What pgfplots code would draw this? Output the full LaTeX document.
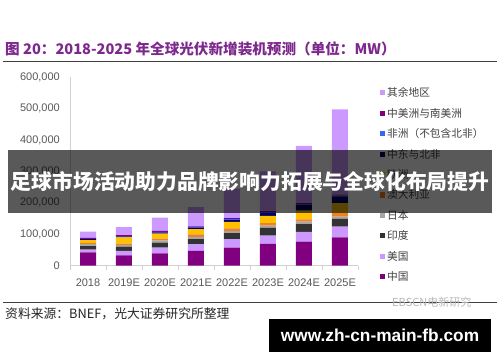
\documentclass[border=0pt]{standalone}
\usepackage{fontspec}
\setmainfont{Liberation Sans}
\newfontfamily\cjk{Noto Sans CJK SC}
\usepackage{pgfplots}
\usepackage{pgfplotstable}
\pgfplotsset{compat=1.18}
\definecolor{cChina}{HTML}{800080}
\definecolor{cUS}{HTML}{CC99FF}
\definecolor{cIndia}{HTML}{333333}
\definecolor{cJapan}{HTML}{A6A6A6}
\definecolor{cAus}{HTML}{F08020}
\definecolor{cEurope}{HTML}{FFC000}
\definecolor{cMENA}{HTML}{000066}
\definecolor{cAfrica}{HTML}{3366FF}
\definecolor{cCSA}{HTML}{800080}
\definecolor{cRest}{HTML}{CC99FF}
\definecolor{titlepurple}{RGB}{125,40,140}
\definecolor{rulegray}{HTML}{404040}
\definecolor{ticktext}{HTML}{595959}
\definecolor{legtext}{HTML}{404040}

\pgfplotstableread{
x china us india japan aus europe mena africa csa rest
0 42000 9000 11000 6000 4000 9000 3000 1000 3000 20000
1 32000 15000 13000 5000 5000 20000 3000 1000 3000 25000
2 39000 18000 16000 7000 6000 16000 4000 1000 3000 43000
3 47000 21000 16000 7000 8000 17000 4000 2000 3000 61000
4 57000 27000 19000 7000 8000 21000 6000 3000 3000 94000
5 69000 26000 25000 7000 8000 23000 9000 3000 3000 127000
6 76000 31000 25000 8000 7000 28000 19000 2000 3000 182000
7 90000 34000 25000 7000 11000 32000 21000 3000 3000 272000
}\data

\pgfplotsset{sq/.style={draw=none, fill=#1, legend image code/.code={\fill[#1] (0pt,-2.6pt) rectangle (5.2pt,2.6pt);}}}

\begin{document}
\begin{tikzpicture}
\useasboundingbox (0pt,0pt) rectangle (500pt,362pt);
\fill[white] (0pt,0pt) rectangle (500pt,362pt);
\node[anchor=west, inner sep=0pt, text=titlepurple, font=\cjk\bfseries\fontsize{14.6}{17}\selectfont] at (5pt,313.5pt) {图 20：2018-2025 年全球光伏新增装机预测（单位：MW）};
\draw[line width=1pt, rulegray] (3pt,300.5pt) -- (497pt,300.5pt);
\draw[line width=1pt, rulegray] (3pt,59.5pt) -- (497pt,59.5pt);
\node[anchor=west, inner sep=0pt, text=black!85, font=\cjk\fontsize{12.8}{15}\selectfont] at (5pt,48pt) {资料来源：BNEF，光大证券研究所整理};
\node[anchor=west, inner sep=0pt, text=black!28, font=\cjk\fontsize{11}{13}\selectfont] at (392pt,60pt) {EBSCN电新研究};

\begin{axis}[
  at={(70pt,96.5pt)}, anchor=south west,
  scale only axis, width=288pt, height=188.2pt,
  ybar stacked, bar width=16pt,
  xmin=-0.5, xmax=7.5, ymin=0, ymax=600000,
  axis x line*=bottom, axis y line*=left,
  axis line style={draw=black!18, -},
  xtick={0,...,7},
  xticklabels={2018,2019E,2020E,2021E,2022E,2023E,2024E,2025E},
  minor xtick={-0.5,0.5,...,7.5},
  major tick length=0pt, minor tick length=4pt, tick align=outside,
  minor tick style={draw=black!18},
  ytick={0,100000,...,600000},
  scaled y ticks=false,
  /pgf/number format/fixed,
  /pgf/number format/1000 sep={,},
  /pgf/number format/assume math mode=true,
  tick label style={font=\fontsize{11}{13}\selectfont, text=ticktext, inner sep=0pt},
  yticklabel style={xshift=-10pt},
  xticklabel style={yshift=-13pt},
  reverse legend,
  legend cell align=left,
  legend style={draw=none, fill=none, at={(1.0764,0.947)}, anchor=north west,
    inner sep=0pt, row sep=9.9pt,
    font=\cjk\fontsize{10.7}{12}\selectfont,
    nodes={inner sep=0pt, text=legtext},
    /tikz/every odd column/.append style={column sep=1.8pt}},
]
\addplot[sq=cChina] table[x=x,y=china]{\data};
\addplot[sq=cUS] table[x=x,y=us]{\data};
\addplot[sq=cIndia] table[x=x,y=india]{\data};
\addplot[sq=cJapan] table[x=x,y=japan]{\data};
\addplot[sq=cAus] table[x=x,y=aus]{\data};
\addplot[sq=cEurope] table[x=x,y=europe]{\data};
\addplot[sq=cMENA] table[x=x,y=mena]{\data};
\addplot[sq=cAfrica] table[x=x,y=africa]{\data};
\addplot[sq=cCSA] table[x=x,y=csa]{\data};
\addplot[sq=cRest] table[x=x,y=rest]{\data};
\legend{中国,美国,印度,日本,澳大利亚,欧洲,中东与北非,非洲（不包含北非）,中美洲与南美洲,其余地区}
\end{axis}

\fill[black, opacity=0.65] (8pt,149pt) rectangle (492pt,212pt);
\node[inner sep=0pt, text=white, font=\cjk\bfseries\fontsize{20.8}{24}\selectfont] at (250pt,180.5pt) {足球市场活动助力品牌影响力拓展与全球化布局提升};
\fill[black] (269pt,10pt) rectangle (491pt,43pt);
\node[inner sep=0pt, text=white, font=\bfseries\fontsize{17.3}{20}\selectfont] at (380pt,26.5pt) {www.zh-cn-main-fb.com};
\end{tikzpicture}
\end{document}
